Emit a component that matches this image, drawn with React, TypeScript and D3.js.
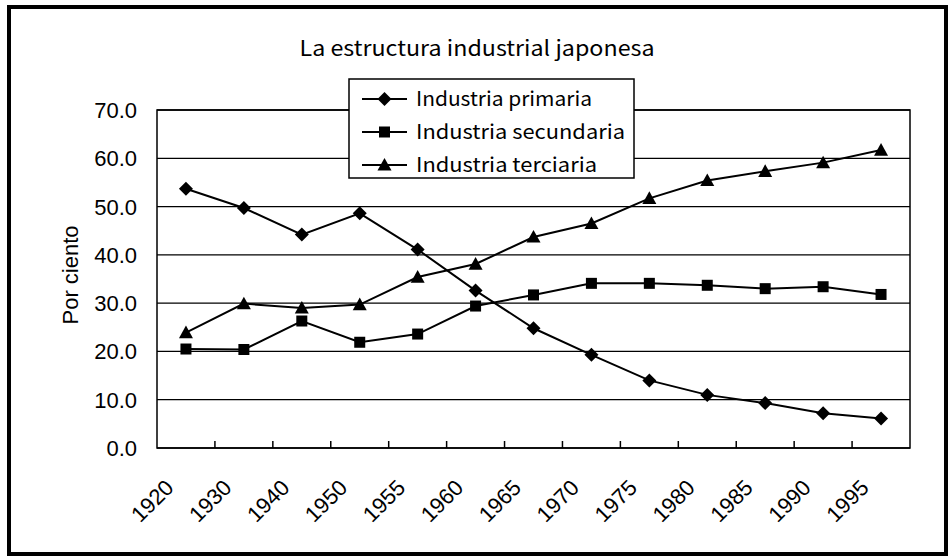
import React from "react";
import * as d3 from "d3";

const years = ["1920","1930","1940","1950","1955","1960","1965","1970","1975","1980","1985","1990","1995"];
const primaria = [53.7, 49.7, 44.2, 48.6, 41.1, 32.6, 24.8, 19.3, 14.0, 11.0, 9.3, 7.2, 6.1];
const secundaria = [20.5, 20.4, 26.3, 21.9, 23.6, 29.4, 31.7, 34.1, 34.1, 33.7, 33.0, 33.4, 31.8];
const terciaria = [23.9, 29.9, 29.0, 29.7, 35.4, 38.1, 43.7, 46.5, 51.7, 55.4, 57.3, 59.1, 61.7];
const yTicks = [0, 10, 20, 30, 40, 50, 60, 70];
const seriesNames = ["Industria primaria", "Industria secundaria", "Industria terciaria"];
const title = "La estructura industrial japonesa";
const yLabel = "Por ciento";

const W = 948, H = 556;
const L = 157, R = 910, T = 110, B = 448;

function Marker({ kind, x, y }: { kind: string; x: number; y: number }) {
  if (kind === "diamond") {
    const s = 7;
    return <path d={`M${x},${y - s}L${x + s},${y}L${x},${y + s}L${x - s},${y}Z`} fill="#000" />;
  }
  if (kind === "square") {
    const s = 5.5;
    return <rect x={x - s} y={y - s} width={2 * s} height={2 * s} fill="#000" />;
  }
  const s = 7;
  return <path d={`M${x},${y - s}L${x + s},${y + s * 0.8}L${x - s},${y + s * 0.8}Z`} fill="#000" />;
}

export default function App() {
  const x = d3.scaleBand<string>().domain(years).range([L, R]).padding(0);
  const y = d3.scaleLinear().domain([0, 70]).range([B, T]);
  const cx = (d: string) => (x(d) as number) + x.bandwidth() / 2;
  const line = d3.line<number>().x((_, i) => cx(years[i])).y((v) => y(v));
  const series = [
    { name: seriesNames[0], data: primaria, kind: "diamond" },
    { name: seriesNames[1], data: secundaria, kind: "square" },
    { name: seriesNames[2], data: terciaria, kind: "triangle" },
  ];
  const gothic = "'Noto Sans CJK JP', 'Noto Sans', sans-serif";
  const arial = "'Liberation Sans', Arial, sans-serif";
  const legX = 349, legY = 79, legW = 285, legH = 99;
  const rowY = [99, 132, 165];
  const legLen = [176, 209, 181];
  return (
    <svg width={W} height={H} style={{ position: "absolute", left: 0, top: 0, background: "#fff" }}>
      <rect x={0} y={0} width={W} height={H} fill="#fff" />
      <rect x={9} y={7} width={937} height={547} fill="#fff" stroke="#000" strokeWidth={4} />
      <text x={477} y={56} textAnchor="middle" fontFamily={gothic} fontSize={21} textLength={355} lengthAdjust="spacingAndGlyphs">{title}</text>
      {yTicks.map((t) => (
        <line key={t} x1={L} x2={R} y1={y(t)} y2={y(t)} stroke="#000" strokeWidth={1.3} />
      ))}
      <rect x={L} y={T} width={R - L} height={B - T} fill="none" stroke="#000" strokeWidth={1.5} />
      {years.slice(1).map((d) => (
        <line key={d} x1={x(d) as number} x2={x(d) as number} y1={B} y2={B - 7} stroke="#000" strokeWidth={1.5} />
      ))}
      {yTicks.map((t) => (
        <text key={t} x={137} y={y(t) + 8} textAnchor="end" fontFamily={arial} fontSize={22}>{t.toFixed(1)}</text>
      ))}
      <text transform={`translate(78,275) rotate(-90)`} textAnchor="middle" fontFamily={arial} fontSize={22}>{yLabel}</text>
      {years.map((d) => (
        <text key={d} transform={`translate(${cx(d) - 11},489) rotate(-45)`} textAnchor="end" fontFamily={arial} fontSize={22}>{d}</text>
      ))}
      {series.map((s) => (
        <g key={s.name}>
          <path d={line(s.data) || ""} fill="none" stroke="#000" strokeWidth={2} />
          {s.data.map((v, i) => (
            <Marker key={i} kind={s.kind} x={cx(years[i])} y={y(v)} />
          ))}
        </g>
      ))}
      <rect x={legX} y={legY} width={legW} height={legH} fill="#fff" stroke="#000" strokeWidth={1.5} />
      {series.map((s, i) => (
        <g key={s.name}>
          <line x1={362} x2={407} y1={rowY[i]} y2={rowY[i]} stroke="#000" strokeWidth={2} />
          <Marker kind={s.kind} x={384.5} y={rowY[i]} />
          <text x={416} y={rowY[i] + 7} fontFamily={gothic} fontSize={20} textLength={legLen[i]} lengthAdjust="spacingAndGlyphs">{s.name}</text>
        </g>
      ))}
    </svg>
  );
}
